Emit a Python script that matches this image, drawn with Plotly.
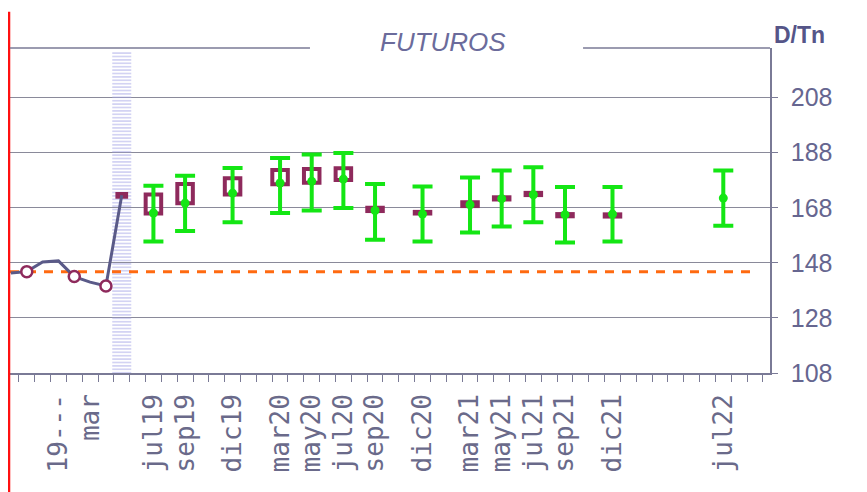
import plotly.graph_objects as go

# meses del eje (oct18 .. jul22), un punto por mes
ABREV = ["ene", "feb", "mar", "abr", "may", "jun", "jul", "ago", "sep", "oct", "nov", "dic"]
MESES = []
for anio in range(2018, 2023):
    for m, a in enumerate(ABREV, 1):
        if (anio, m) >= (2018, 10) and (anio, m) <= (2022, 7):
            MESES.append(f"{a}{anio % 100:02d}")

# etiquetas del eje x
tick_meses = ["ene19", "mar19", "jul19", "sep19", "dic19", "mar20", "may20", "jul20",
              "sep20", "dic20", "mar21", "may21", "jul21", "sep21", "dic21", "jul22"]
tick_texto = ["19---", "mar", "jul19", "sep19", "dic19", "mar20", "may20", "jul20",
              "sep20", "dic20", "mar21", "may21", "jul21", "sep21", "dic21", "jul22"]

# precio disponible (historico)
hist_meses = ["oct18", "nov18", "dic18", "ene19", "feb19", "mar19", "abr19", "may19"]
hist_precio = [144.3, 144.8, 148.3, 148.7, 143.0, 141.0, 139.6, 172.5]
circulo_meses = ["nov18", "feb19", "abr19"]

# rango anterior de futuros (cajas)
caja_meses = ["may19", "jul19", "sep19", "dic19", "mar20", "may20", "jul20", "sep20",
              "dic20", "mar21", "may21", "jul21", "sep21", "dic21"]
caja_min = [172.0, 165.9, 169.6, 172.8, 176.5, 177.1, 178.1, 166.8, 165.9, 168.6, 171.0, 172.6, 164.9, 164.8]
caja_max = [173.0, 172.8, 176.6, 178.7, 181.7, 182.1, 182.3, 168.0, 166.5, 170.0, 171.8, 173.4, 165.7, 165.6]

# futuros actuales con rango
fut_meses = ["jul19", "sep19", "dic19", "mar20", "may20", "jul20", "sep20", "dic20",
             "mar21", "may21", "jul21", "sep21", "dic21", "jul22"]
fut_precio = [166.1, 169.7, 173.3, 177.0, 177.6, 178.4, 167.0, 165.7, 169.1, 171.3, 172.7, 165.5, 165.7, 171.5]
fut_max = [176.0, 179.6, 182.4, 186.1, 187.3, 187.9, 176.6, 175.7, 179.0, 181.5, 182.7, 175.5, 175.5, 181.5]
fut_min = [155.7, 159.6, 162.7, 166.1, 167.0, 167.9, 156.4, 155.7, 159.0, 161.2, 162.7, 155.4, 155.7, 161.5]

referencia = 144.8          # linea naranja
mes_actual = "may19"        # franja rayada
franja_tope = 224.7

Y_MIN, Y_MAX = 108, 226
X_MIN, X_MAX = -0.06, 47.95


def idx(lista):
    return [MESES.index(m) for m in lista]


MORADO = "#8e2a5c"
VERDE = "#14e614"
GRIS = "#7a7a96"

fig = go.Figure()

# franja del mes actual
fig.add_trace(go.Bar(x=idx([mes_actual]), y=[franja_tope - Y_MIN], base=[Y_MIN], width=1.2,
                     marker=dict(color="rgba(0,0,0,0)", line=dict(width=0),
                                 pattern=dict(shape="-", fgcolor="#a8a8e8", bgcolor="rgba(0,0,0,0)",
                                              size=3.4, solidity=0.5))))

# cajas
anchos = [0.55] + [0.98] * (len(caja_meses) - 1)
fig.add_trace(go.Bar(x=idx(caja_meses), y=[b - a for a, b in zip(caja_min, caja_max)], base=caja_min,
                     width=anchos,
                     marker=dict(color="rgba(0,0,0,0)", line=dict(color=MORADO, width=4))))

# referencia naranja
fig.add_trace(go.Scatter(x=[X_MIN, X_MAX - 0.85], y=[referencia, referencia], mode="lines",
                         line=dict(color="#ff6a10", width=3, dash="9px,8px")))

# historico
fig.add_trace(go.Scatter(x=idx(hist_meses), y=hist_precio, mode="lines",
                         line=dict(color="#5a5a88", width=3)))
circ_y = [hist_precio[hist_meses.index(m)] for m in circulo_meses]
fig.add_trace(go.Scatter(x=idx(circulo_meses), y=circ_y, mode="markers",
                         marker=dict(symbol="circle", size=11, color="white",
                                     line=dict(color=MORADO, width=2.5))))

# futuros
fig.add_trace(go.Scatter(x=idx(fut_meses), y=fut_precio, mode="markers",
                         marker=dict(size=9, color=VERDE),
                         error_y=dict(type="data", symmetric=False,
                                      array=[b - p for p, b in zip(fut_precio, fut_max)],
                                      arrayminus=[p - a for p, a in zip(fut_precio, fut_min)],
                                      color=VERDE, thickness=4, width=10)))

fig.update_layout(
    width=867, height=492,
    margin=dict(l=2, r=105, t=40, b=127),
    paper_bgcolor="white", plot_bgcolor="white",
    barmode="overlay", showlegend=False, hovermode=False,
    shapes=[
        dict(type="rect", xref="paper", yref="paper", x0=-0.05, x1=-0.0013, y0=-0.5, y1=1.1077,
             fillcolor="#fffde4", line=dict(color="#ff1010", width=2.5), layer="above"),
        dict(type="line", xref="paper", yref="paper", x0=0, x1=0.3947, y0=1, y1=1,
             line=dict(color=GRIS, width=1.3)),
        dict(type="line", xref="paper", yref="paper", x0=0.754, x1=1, y0=1, y1=1,
             line=dict(color=GRIS, width=1.3)),
    ],
    annotations=[
        dict(text="FUTUROS", xref="paper", yref="paper", x=0.5697, y=1.018, showarrow=False,
             xanchor="center", yanchor="middle",
             font=dict(family="Liberation Sans", size=26, color="#6b6b9b", style="italic")),
        dict(text="<b>D/Tn</b>", xref="paper", yref="paper", x=1.039, y=1.04, showarrow=False,
             xanchor="center", yanchor="middle",
             font=dict(family="Liberation Sans", size=23, color="#555588")),
    ],
)

fig.update_xaxes(
    range=[X_MIN, X_MAX], tickmode="array", tickvals=idx(tick_meses), ticktext=tick_texto,
    tickangle=-90, ticks="", ticklabelstandoff=9,
    tickfont=dict(family="DejaVu Sans Mono", size=26, color="#6a6a8a"),
    showgrid=False, zeroline=False, showline=True, linecolor=GRIS, linewidth=1.5,
    minor=dict(ticks="outside", ticklen=7, tickcolor=GRIS, tickwidth=1.2,
               tickmode="array", tickvals=[i + 0.5 for i in range(-1, len(MESES) + 2)],
               showgrid=False),
)
fig.update_yaxes(
    range=[Y_MIN, Y_MAX], side="right", tickmode="array", tickvals=list(range(108, 209, 20)),
    ticks="outside", ticklen=6, tickcolor=GRIS, ticklabelstandoff=8,
    tickfont=dict(family="Liberation Sans", size=25, color="#666690"),
    showgrid=True, gridcolor="#8a8a9a", gridwidth=1.3, zeroline=False,
    showline=True, linecolor=GRIS, linewidth=1.5,
)

fig.write_html("out.html")
